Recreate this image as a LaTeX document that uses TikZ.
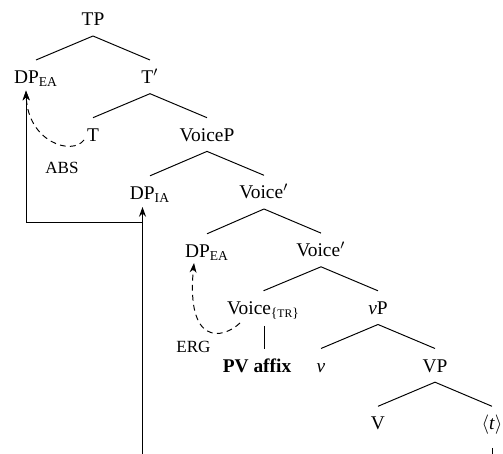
\documentclass[tikz,border=0pt]{standalone}
\usepackage{fontspec}
\setmainfont{Liberation Serif}
\usetikzlibrary{arrows.meta,calc}
\newcommand\capsub[1]{{\fontsize{6}{6}\selectfont #1}}
\newcommand\trbranch[2]{\draw[branch] ($(#1.base)+(0,10)$) -- ($(#2.base)+(0,-23.7)$);}
\begin{document}
\begin{tikzpicture}[x=0.5155pt,y=-0.5155pt,
  lab/.style={anchor=base,inner sep=0pt,font=\fontsize{10}{12}\selectfont},
  smc/.style={lab,font=\fontsize{8.8}{10}\selectfont},
  branch/.style={line width=0.5pt},
  move/.style={line width=0.5pt,-{Stealth[length=5pt,width=3.6pt]}},
  dmove/.style={move,dash pattern=on 3pt off 2.2pt}]
\useasboundingbox (0,0) rectangle (503,454);
% nodes
\node[lab] (TP)     at (93,26)     {TP};
\node[lab] (DPEA)   at (36,83.7)   {DP\textsubscript{EA}};
\node[lab] (Tbar)   at (150,83.7)  {T$'$};
\node[lab] (T)      at (93,141.4)  {T};
\node[lab] (VoiceP) at (207,141.4) {VoiceP};
\node[lab] (DPIA)   at (150,199.5) {DP\textsubscript{IA}};
\node[lab] (Vbar)   at (264,199)   {Voice$'$};
\node[lab] (DPEAb)  at (207,257.5) {DP\textsubscript{EA}};
\node[lab] (Vbarb)  at (321,256.8) {Voice$'$};
\node[lab] (VoiceTR) at (263.5,314.5) {Voice\textsubscript{\{\capsub{TR}\}}};
\node[lab] (vP)     at (378,314.5) {\textit{v}P};
\node[lab] (PV)     at (257,372.2) {\textbf{PV affix}};
\node[lab] (v)      at (321,372.2) {\textit{v}};
\node[lab] (VP)     at (435,372.2) {VP};
\node[lab] (V)      at (378,430)   {V};
\node[lab] (t)      at (492,430)   {$\langle$\textit{t}$\rangle$};
\node[smc] (abs) at (62,174) {ABS};
\node[smc] (erg) at (193.5,353) {ERG};
% branches
\trbranch{TP}{DPEA}
\trbranch{TP}{Tbar}
\trbranch{Tbar}{T}
\trbranch{Tbar}{VoiceP}
\trbranch{VoiceP}{DPIA}
\trbranch{VoiceP}{Vbar}
\trbranch{Vbar}{DPEAb}
\trbranch{Vbar}{Vbarb}
\trbranch{Vbarb}{VoiceTR}
\trbranch{Vbarb}{vP}
\trbranch{vP}{v}
\trbranch{vP}{VP}
\trbranch{VP}{V}
\trbranch{VP}{t}
\draw[branch] ($(VoiceTR.base)+(0.5,11.5)$) -- ($(VoiceTR.base |- PV.base)+(0.5,-23)$);
\coordinate (tbot) at (492,456);
\draw[branch] ($(t.base)+(0,18)$) -- (tbot);
% movement arrows
\coordinate (mbot) at (142.5,456);
\coordinate (mjoin) at (142.5,222.7);
\coordinate (DPEAtip) at ($(DPEA.base)+(-10,7)$);
\draw[move] (mbot) -- ($(DPIA.base)+(-7.5,7.5)$);
\draw[move] (mjoin) -| (DPEAtip);
\draw[dmove] ($(T.base)+(-9,-1.4)$) .. controls (72,156) and (28,142) .. (DPEAtip);
\draw[dmove] ($(VoiceTR.base)+(-23.5,8.5)$) .. controls (222,340) and (186,345) .. ($(DPEAb.base)+(-13,5.5)$);
\end{tikzpicture}
\end{document}
